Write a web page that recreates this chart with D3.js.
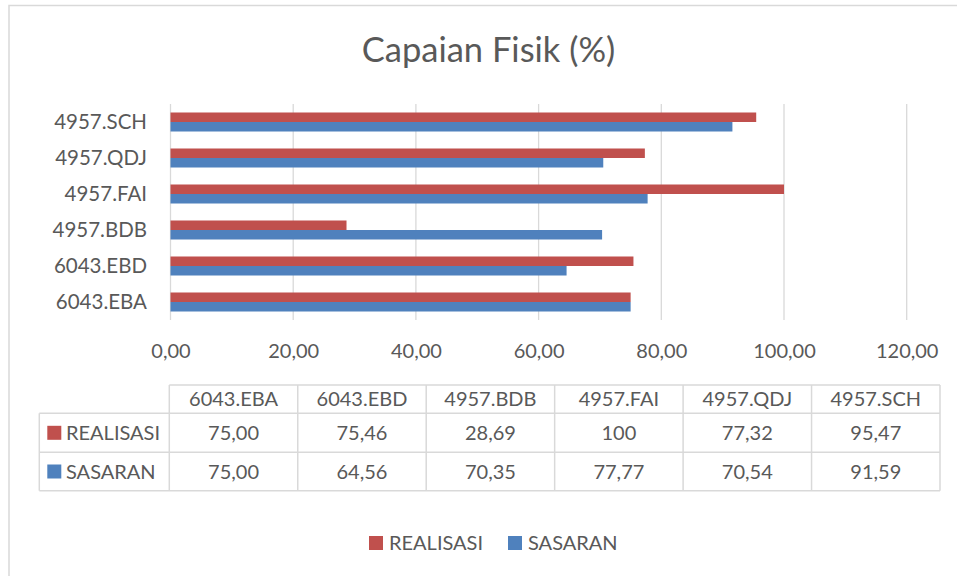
<!DOCTYPE html>
<html>
<head>
<meta charset="utf-8">
<script src="https://cdn.jsdelivr.net/npm/d3@7/dist/d3.min.js"></script>
<style>
  html, body { margin: 0; padding: 0; background: #fff; }
  svg { display: block; }
  text { font-family: Lato, "Open Sans", sans-serif; fill: #595959; }
</style>
</head>
<body>
<svg id="chart" width="957" height="576"></svg>
<script>
// ---- data ----
const title = "Capaian Fisik (%)";
const categories = ["6043.EBA", "6043.EBD", "4957.BDB", "4957.FAI", "4957.QDJ", "4957.SCH"];
const seriesNames = ["REALISASI", "SASARAN"];
const realisasi = [75.00, 75.46, 28.69, 100, 77.32, 95.47];
const sasaran = [75.00, 64.56, 70.35, 77.77, 70.54, 91.59];
const realisasiLabels = ["75,00", "75,46", "28,69", "100", "77,32", "95,47"];
const sasaranLabels = ["75,00", "64,56", "70,35", "77,77", "70,54", "91,59"];
const tickValues = [0, 20, 40, 60, 80, 100, 120];
const tickLabels = ["0,00", "20,00", "40,00", "60,00", "80,00", "100,00", "120,00"];
const colors = { REALISASI: "#C0504D", SASARAN: "#4F81BD" };

const series = [
  { name: "REALISASI", values: realisasi, labels: realisasiLabels },
  { name: "SASARAN", values: sasaran, labels: sasaranLabels }
];

const svg = d3.select("#chart");
const gridColor = "#D9D9D9";

// frame
svg.append("rect")
  .attr("x", 9).attr("y", 5.5).attr("width", 1000).attr("height", 1000)
  .attr("fill", "none").attr("stroke", gridColor).attr("stroke-width", 1.5);

// title
svg.append("text")
  .attr("x", 488.5).attr("y", 61.5)
  .attr("text-anchor", "middle")
  .style("font-size", "34.5px")
  .text(title);

// scales
const x = d3.scaleLinear().domain([0, 120]).range([170.5, 906.7]);
const yOrder = categories.slice().reverse();
const y = d3.scaleBand().domain(yOrder).range([104, 320]).paddingInner(0.472).paddingOuter(0.236);
const ySub = d3.scaleBand().domain(seriesNames).range([0, y.bandwidth()]);

// gridlines
svg.append("g").selectAll("line").data(tickValues).join("line")
  .attr("x1", d => x(d)).attr("x2", d => x(d))
  .attr("y1", 104).attr("y2", 320)
  .attr("stroke", gridColor).attr("stroke-width", 1.3);

// bars
const gBars = svg.append("g");
series.forEach(s => {
  gBars.append("g").selectAll("rect").data(categories).join("rect")
    .attr("x", x(0))
    .attr("y", (c) => y(c) + ySub(s.name))
    .attr("width", (c, i) => x(s.values[i]) - x(0))
    .attr("height", ySub.bandwidth())
    .attr("fill", colors[s.name]);
});

// x axis tick labels
const xAxis = d3.axisBottom(x).tickValues(tickValues)
  .tickFormat((d, i) => tickLabels[i]).tickSize(0).tickPadding(0);
const gx = svg.append("g").attr("transform", "translate(0,344)").call(xAxis);
gx.select(".domain").remove();
gx.selectAll("text").style("font-size", "20px").attr("fill", "#595959")
  .attr("font-family", "Lato, 'Open Sans', sans-serif");

// y axis labels
const yAxis = d3.axisLeft(y).tickSize(0).tickPadding(0);
const gy = svg.append("g").attr("transform", "translate(147,0)").call(yAxis);
gy.select(".domain").remove();
gy.selectAll("text").style("font-size", "20.5px").attr("fill", "#595959")
  .attr("font-family", "Lato, 'Open Sans', sans-serif");

// data table
const tLeft = 39.3, tColStart = 169.3, tRight = 940;
const rowY = [385, 413.3, 452.3, 490.7];
const col = d3.scaleBand().domain(categories).range([tColStart, tRight]);
const tbl = svg.append("g");
const lineStyle = sel => sel.attr("stroke", gridColor).attr("stroke-width", 1.5).attr("fill", "none");
// horizontal lines
tbl.append("line").attr("x1", tColStart).attr("x2", tRight).attr("y1", rowY[0]).attr("y2", rowY[0]).call(lineStyle);
[1, 2, 3].forEach(r => tbl.append("line").attr("x1", tLeft).attr("x2", tRight).attr("y1", rowY[r]).attr("y2", rowY[r]).call(lineStyle));
// vertical lines
tbl.append("line").attr("x1", tLeft).attr("x2", tLeft).attr("y1", rowY[1]).attr("y2", rowY[3]).call(lineStyle);
categories.forEach(c => tbl.append("line").attr("x1", col(c)).attr("x2", col(c)).attr("y1", rowY[0]).attr("y2", rowY[3]).call(lineStyle));
tbl.append("line").attr("x1", tRight).attr("x2", tRight).attr("y1", rowY[0]).attr("y2", rowY[3]).call(lineStyle);

// header texts
tbl.selectAll("text.hdr").data(categories).join("text").attr("class", "hdr")
  .attr("x", c => col(c) + col.bandwidth() / 2)
  .attr("y", (rowY[0] + rowY[1]) / 2).attr("dy", "0.35em")
  .attr("text-anchor", "middle").style("font-size", "20px")
  .text(c => c);

series.forEach((s, si) => {
  const cy = (rowY[si + 1] + rowY[si + 2]) / 2;
  tbl.append("rect").attr("x", 47.3).attr("y", cy - 7).attr("width", 14).attr("height", 14).attr("fill", colors[s.name]);
  tbl.append("text").attr("x", 66).attr("y", cy).attr("dy", "0.35em").style("font-size", "20px").text(s.name);
  tbl.append("g").selectAll("text").data(categories).join("text")
    .attr("x", c => col(c) + col.bandwidth() / 2)
    .attr("y", cy).attr("dy", "0.35em")
    .attr("text-anchor", "middle").style("font-size", "20px")
    .text((c, i) => s.labels[i]);
});

// legend
const legend = svg.append("g");
const legendX = [369, 508];
series.forEach((s, i) => {
  legend.append("rect").attr("x", legendX[i]).attr("y", 536).attr("width", 14).attr("height", 14).attr("fill", colors[s.name]);
  legend.append("text").attr("x", legendX[i] + 20).attr("y", 543).attr("dy", "0.35em").style("font-size", "20px").text(s.name);
});
</script>
</body>
</html>
